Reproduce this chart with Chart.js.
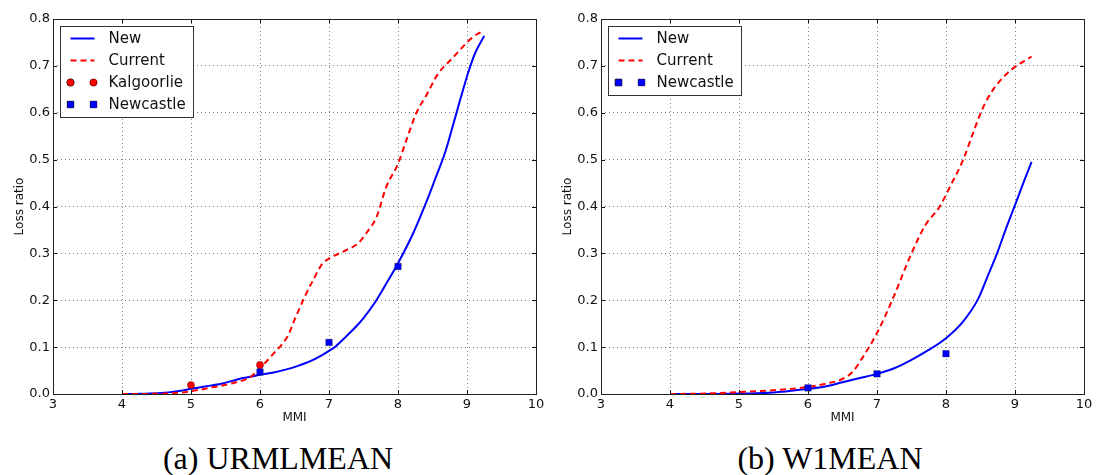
<!DOCTYPE html>
<html>
<head>
<meta charset="utf-8">
<script src="https://cdn.jsdelivr.net/npm/chart.js@4.4.1/dist/chart.umd.min.js"></script>
<style>
    body { margin: 0; background: #fff; width: 1097px; height: 475px; overflow: hidden; position: relative; }
    canvas { position: absolute; top: 0; }
    #chartA { left: 0; }
    #chartB { left: 548px; }
    .caption {
        position: absolute; top: 442px; width: 400px; text-align: center;
        font-family: "Liberation Serif", "Times New Roman", serif;
        font-size: 32px; line-height: 32px; color: #000;
    }
</style>
</head>
<body>
<canvas id="chartA" width="548" height="430"></canvas>
<canvas id="chartB" width="548" height="430"></canvas>
<div class="caption" style="left:78px">(a) URMLMEAN</div>
<div class="caption" style="left:630px">(b) W1MEAN</div>

<script>
// ---- (a) URMLMEAN ----
const urmlNewX = [4, 4.3, 4.56, 4.8, 5.0, 5.2, 5.44, 5.6, 5.75, 5.9, 6.0, 6.2, 6.37, 6.55, 6.73, 6.9, 7.0, 7.1, 7.25, 7.4, 7.5, 7.66, 7.8, 8.0, 8.22, 8.42, 8.55, 8.68, 8.81, 8.9, 9.02, 9.12, 9.25];
const urmlNewY = [0, 0.0005, 0.002, 0.006, 0.011, 0.016, 0.022, 0.028, 0.034, 0.038, 0.041, 0.046, 0.052, 0.06, 0.07, 0.083, 0.092, 0.102, 0.123, 0.145, 0.162, 0.194, 0.228, 0.279, 0.343, 0.413, 0.463, 0.514, 0.58, 0.627, 0.687, 0.728, 0.764];

const urmlCurX = [4, 4.5, 4.77, 5.0, 5.34, 5.6, 5.86, 6.0, 6.2, 6.4, 6.5, 6.65, 6.77, 6.91, 7.0, 7.25, 7.42, 7.54, 7.69, 7.83, 8.0, 8.12, 8.27, 8.41, 8.58, 8.8, 9.0, 9.15, 9.25];
const urmlCurY = [0, 0.0005, 0.002, 0.006, 0.015, 0.023, 0.036, 0.055, 0.087, 0.123, 0.158, 0.208, 0.243, 0.279, 0.289, 0.307, 0.321, 0.343, 0.378, 0.442, 0.491, 0.541, 0.601, 0.637, 0.683, 0.718, 0.75, 0.768, 0.774];

const kalgoorlieX = [5, 6];
const kalgoorlieY = [0.019, 0.062];

const urmlNewcastleX = [6, 7, 8];
const urmlNewcastleY = [0.047, 0.11, 0.272];

// ---- (b) W1MEAN ----
const w1NewX = [4, 4.5, 5, 5.5, 6, 6.25, 6.5, 6.75, 7, 7.25, 7.5, 7.75, 8, 8.25, 8.47, 8.6, 8.74, 8.88, 9.0, 9.12, 9.24];
const w1NewY = [0, 0, 0.001, 0.003, 0.011, 0.016, 0.025, 0.034, 0.043, 0.055, 0.073, 0.094, 0.119, 0.155, 0.204, 0.25, 0.30, 0.357, 0.403, 0.45, 0.495];

const w1CurX = [4, 4.5, 5, 5.5, 6, 6.25, 6.5, 6.65, 6.8, 7, 7.22, 7.5, 7.7, 7.91, 8.05, 8.25, 8.4, 8.54, 8.69, 8.88, 9.02, 9.24];
const w1CurY = [0, 0.001, 0.004, 0.008, 0.015, 0.022, 0.032, 0.048, 0.08, 0.13, 0.2, 0.3, 0.36, 0.4, 0.44, 0.5, 0.56, 0.612, 0.651, 0.683, 0.70, 0.72];

const w1NewcastleX = [6, 7, 8];
const w1NewcastleY = [0.013, 0.043, 0.086];

const xTicks = [3, 4, 5, 6, 7, 8, 9, 10];
const yTicks = [0, 0.1, 0.2, 0.3, 0.4, 0.5, 0.6, 0.7, 0.8];

const FONT = "'DejaVu Sans', 'Liberation Sans', sans-serif";

function pts(xs, ys) {
    return xs.map((x, i) => ({ x: x, y: ys[i] }));
}

function lineSet(label, xs, ys, color, dash, order) {
    return {
        type: "line", label: label, data: pts(xs, ys),
        borderColor: color, borderWidth: 2, borderDash: dash,
        pointRadius: 0, fill: false, cubicInterpolationMode: "monotone",
        order: order
    };
}

function markerSet(label, xs, ys, color, style, radius, order) {
    return {
        type: "scatter", label: label, data: pts(xs, ys),
        backgroundColor: color, borderColor: "rgba(0,0,0,0.55)", borderWidth: 0.6,
        pointStyle: style, pointRadius: radius, pointHoverRadius: radius,
        order: order
    };
}

// frame, inward ticks and matplotlib style legend box
const mplDecor = {
    id: "mplDecor",
    afterDatasetsDraw(chart) {
        const ctx = chart.ctx;
        const a = chart.chartArea;
        const xs = chart.scales.x, ys = chart.scales.y;
        ctx.save();
        ctx.strokeStyle = "#111";
        ctx.lineWidth = 1;
        ctx.beginPath();
        xTicks.forEach(v => {
            const px = Math.round(xs.getPixelForValue(v)) + 0.5;
            ctx.moveTo(px, a.bottom); ctx.lineTo(px, a.bottom - 4);
            ctx.moveTo(px, a.top); ctx.lineTo(px, a.top + 4);
        });
        yTicks.forEach(v => {
            const py = Math.round(ys.getPixelForValue(v)) + 0.5;
            ctx.moveTo(a.left, py); ctx.lineTo(a.left + 4, py);
            ctx.moveTo(a.right, py); ctx.lineTo(a.right - 4, py);
        });
        ctx.stroke();
        ctx.strokeStyle = "#222";
        ctx.strokeRect(Math.round(a.left) + 0.5, Math.round(a.top) + 0.5,
                       Math.round(a.right - a.left), Math.round(a.bottom - a.top));

        // legend
        const sets = chart.data.datasets;
        ctx.font = "15px " + FONT;
        let tw = 0;
        sets.forEach(d => { tw = Math.max(tw, ctx.measureText(d.label).width); });
        const bx = Math.round(a.left) + 7.5, by = Math.round(a.top) + 7.5;
        const rowH = 22;
        const bw = Math.round(48 + tw + 8), bh = Math.round(sets.length * rowH + 3);
        ctx.fillStyle = "#fff";
        ctx.fillRect(bx, by, bw, bh);
        ctx.strokeStyle = "#333";
        ctx.lineWidth = 1;
        ctx.strokeRect(bx, by, bw, bh);
        sets.forEach((d, i) => {
            const cy = by + 12 + i * rowH;
            if (d.type === "line") {
                ctx.save();
                ctx.strokeStyle = d.borderColor;
                ctx.lineWidth = 2;
                ctx.setLineDash(d.borderDash || []);
                ctx.beginPath();
                ctx.moveTo(bx + 10, cy); ctx.lineTo(bx + 34, cy);
                ctx.stroke();
                ctx.restore();
            } else {
                [bx + 10, bx + 33].forEach(mx => {
                    Chart.helpers.drawPoint(ctx, {
                        pointStyle: d.pointStyle, radius: d.pointRadius,
                        borderWidth: d.borderWidth
                    }, mx, cy);
                    ctx.fillStyle = d.backgroundColor;
                    ctx.strokeStyle = d.borderColor;
                    ctx.lineWidth = d.borderWidth;
                    ctx.fill();
                    ctx.stroke();
                });
            }
            ctx.fillStyle = "#111";
            ctx.textBaseline = "middle";
            ctx.textAlign = "left";
            ctx.fillText(d.label, bx + 48, cy + 1);
        });
        ctx.restore();
    }
};

function makeChart(id, datasets) {
    return new Chart(document.getElementById(id), {
        data: { datasets: datasets },
        plugins: [mplDecor],
        options: {
            responsive: false,
            animation: false,
            events: [],
            layout: { padding: { top: 19, right: 12, bottom: 0, left: 0 } },
            plugins: { legend: { display: false }, tooltip: { enabled: false } },
            scales: {
                x: {
                    type: "linear", min: 3, max: 10,
                    afterBuildTicks: s => { s.ticks = xTicks.map(v => ({ value: v })); },
                    afterFit: s => { s.height = 36; },
                    grid: { color: "rgba(0,0,0,0.5)", lineWidth: 1, drawTicks: false },
                    border: { display: false, dash: [1, 3] },
                    ticks: { padding: 3, color: "#111", font: { family: FONT, size: 13 }, maxRotation: 0 },
                    title: { display: true, text: "MMI", color: "#111", font: { family: FONT, size: 12 }, padding: { top: 0, bottom: 5 } }
                },
                y: {
                    type: "linear", min: 0, max: 0.8,
                    afterBuildTicks: s => { s.ticks = yTicks.map(v => ({ value: v })); },
                    afterFit: s => { s.width = 53; },
                    grid: { color: "rgba(0,0,0,0.5)", lineWidth: 1, drawTicks: false },
                    border: { display: false, dash: [1, 3] },
                    ticks: { padding: 3, color: "#111", font: { family: FONT, size: 13 }, callback: v => v.toFixed(1) },
                    title: { display: true, text: "Loss ratio", color: "#111", font: { family: FONT, size: 12 }, padding: { top: 13, bottom: 0 } }
                }
            }
        }
    });
}

makeChart("chartA", [
    lineSet("New", urmlNewX, urmlNewY, "#0000ff", [], 4),
    lineSet("Current", urmlCurX, urmlCurY, "#ff0000", [6, 4], 3),
    markerSet("Kalgoorlie", kalgoorlieX, kalgoorlieY, "#ff0000", "circle", 3.6, 2),
    markerSet("Newcastle", urmlNewcastleX, urmlNewcastleY, "#0000ff", "rect", 4.6, 1)
]);

makeChart("chartB", [
    lineSet("New", w1NewX, w1NewY, "#0000ff", [], 3),
    lineSet("Current", w1CurX, w1CurY, "#ff0000", [6, 4], 2),
    markerSet("Newcastle", w1NewcastleX, w1NewcastleY, "#0000ff", "rect", 4.6, 1)
]);
</script>
</body>
</html>
